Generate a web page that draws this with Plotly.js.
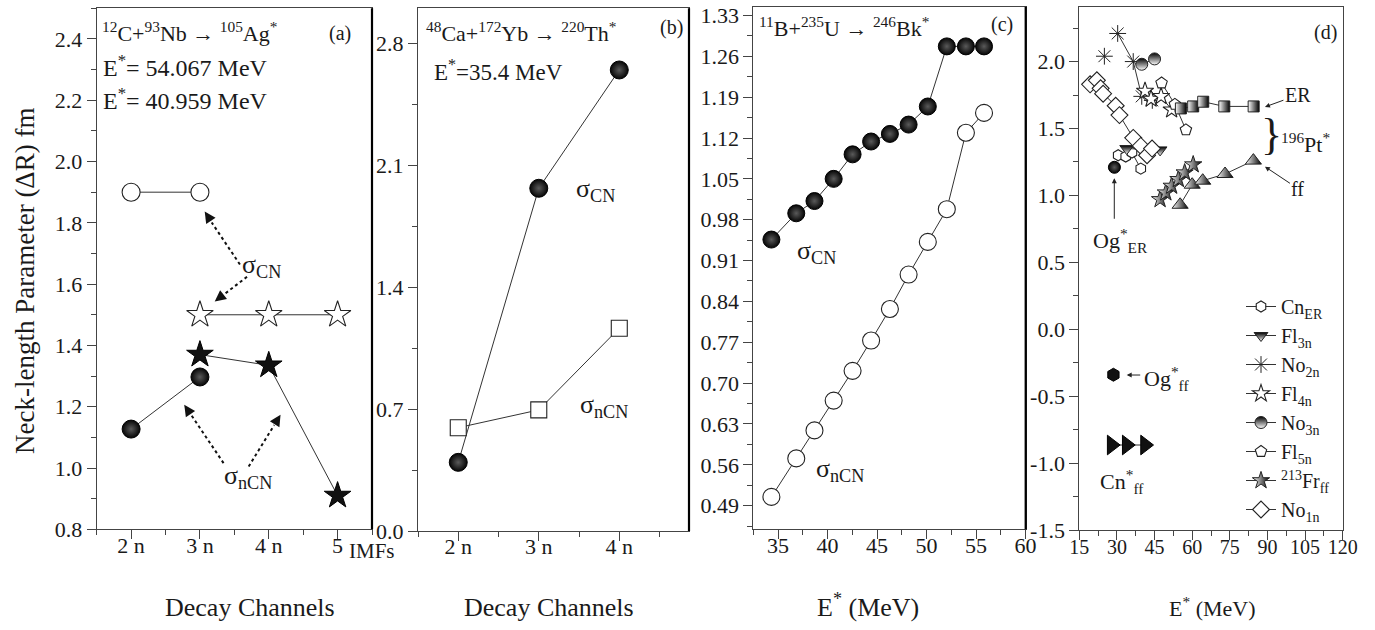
<!DOCTYPE html>
<html><head><meta charset="utf-8">
<script src="https://cdn.plot.ly/plotly-3.0.1.min.js"></script>
<style>html,body{margin:0;padding:0;background:#fff}#chart{width:1375px;height:630px}</style>
</head><body><div id="chart"></div>
<script>
// ---------- Panel (a): 12C+93Nb -> 105Ag* ----------
const aChannels = [2, 3, 4, 5];
const aTickText = ['2 n', '3 n', '4 n', '5'];
const aCircleX = [2, 3];       const aCircleY = [1.90, 1.90];
const aOpenStarX = [3, 4, 5];  const aOpenStarY = [1.50, 1.50, 1.50];
const aStarX = [3, 4, 5];      const aStarY = [1.37, 1.335, 0.91];
const aBallX = [2, 3];         const aBallY = [1.127, 1.297];
// ---------- Panel (b): 48Ca+172Yb -> 220Th* ----------
const bChannels = [2, 3, 4];
const bTickText = ['2 n', '3 n', '4 n'];
const bBallY = [0.394, 1.967, 2.646];
const bSquareY = [0.593, 0.695, 1.164];
// ---------- Panel (c): 11B+235U -> 246Bk* ----------
const cE   = [34.33, 36.84, 38.68, 40.62, 42.53, 44.40, 46.30, 48.19, 50.13, 52.05, 53.98, 55.81];
const cCN  = [0.946, 0.991, 1.012, 1.050, 1.092, 1.114, 1.127, 1.143, 1.174, 1.277, 1.277, 1.277];
const cNCN = [0.505, 0.571, 0.619, 0.670, 0.721, 0.773, 0.827, 0.886, 0.942, 0.998, 1.129, 1.163];
// ---------- Panel (d) ----------
const cnErE = [30.5, 33.5, 36.0, 39.5];        const cnErV = [1.30, 1.29, 1.32, 1.20];
const fl3nE = [33.9, 47.2];                    const fl3nV = [1.35, 1.34];
const no2nE = [25.0, null, 30.3, 36.5, 39.9, 44.1]; const no2nV = [2.04, null, 2.21, 2.00, 1.74, 1.71];
const fl4nE = [41.2, 43.6, 47.6, 51.8];        const fl4nV = [1.78, 1.72, 1.74, 1.64];
const no3nE = [39.9, 45.0];                    const no3nV = [1.98, 2.02];
const fl5nE = [47.8, 53.1, 57.5];              const fl5nV = [1.84, 1.68, 1.49];
const frE   = [47.2, 49.5, 51.8, 54.5, 57.0, 60.4]; const frV = [0.97, 1.02, 1.07, 1.12, 1.17, 1.23];
const no1nE = [19.3, 22.0, 23.5, 24.5, 29.5, 31.0, 36.5, 39.5, 42.0, 44.0];
const no1nV = [1.83, 1.86, 1.80, 1.76, 1.67, 1.60, 1.43, 1.37, 1.30, 1.35];
const ptErE = [55.5, 60.4, 64.4, 72.8, 84.5];  const ptErV = [1.65, 1.665, 1.70, 1.665, 1.665];
const ptFfE = [55.2, 60.0, 64.2, 73.1, 84.4];  const ptFfV = [0.93, 1.08, 1.11, 1.16, 1.26];
const ogErE = [29.0];  const ogErV = [1.21];
const ogFfE = [28.6];  const ogFfV = [-0.34];
const cnFfE = [27.9, 33.9, 41.2];  const cnFfV = [-0.865, -0.865, -0.865];
const dYTicks = [-1.5, -1.0, -0.5, 0.0, 0.5, 1.0, 1.5, 2.0];
const dYText = ['-1.5', '-1.0', '-0.5', '0.0', '0.5', '1.0', '1.5', '2.0'];

const FONT = '"Liberation Serif", "Times New Roman", Times, serif';
const INK = '#1a1a1a';
const LINE = {color: '#333', width: 1};
const ball = s => ({symbol: 'circle', size: s, color: '#050505', gradient: {type: 'radial', color: '#5a5a5a'}, line: {color: '#000', width: 1}});
const openM = (sym, s) => ({symbol: sym, size: s, color: '#fff', line: {color: '#222', width: 1.1}});

const traces = [
  // panel d legend traces first (legend order)
  {x: cnErE, y: cnErV, xaxis: 'x4', yaxis: 'y4', mode: 'lines+markers', name: 'Cn<sub>ER</sub>', line: LINE, marker: openM('hexagon', 11)},
  {x: fl3nE, y: fl3nV, xaxis: 'x4', yaxis: 'y4', mode: 'lines+markers', name: 'Fl<sub>3n</sub>', line: LINE,
   marker: {symbol: 'triangle-down', size: 12, color: '#000', gradient: {type: 'vertical', color: '#fff'}, line: {color: '#222', width: 1}}},
  {x: no2nE, y: no2nV, xaxis: 'x4', yaxis: 'y4', mode: 'lines+markers', name: 'No<sub>2n</sub>', line: LINE, connectgaps: false,
   marker: {symbol: 'asterisk-open', size: 14, color: '#222', line: {color: '#222', width: 1}}},
  {x: fl4nE, y: fl4nV, xaxis: 'x4', yaxis: 'y4', mode: 'lines+markers', name: 'Fl<sub>4n</sub>', line: LINE, marker: openM('star', 13)},
  {x: no3nE, y: no3nV, xaxis: 'x4', yaxis: 'y4', mode: 'lines+markers', name: 'No<sub>3n</sub>', line: LINE,
   marker: {symbol: 'circle', size: 12, color: '#000', gradient: {type: 'vertical', color: '#fff'}, line: {color: '#222', width: 1}}},
  {x: fl5nE, y: fl5nV, xaxis: 'x4', yaxis: 'y4', mode: 'lines+markers', name: 'Fl<sub>5n</sub>', line: LINE, marker: openM('pentagon', 12)},
  {x: frE, y: frV, xaxis: 'x4', yaxis: 'y4', mode: 'lines+markers', name: '<sup>213</sup>Fr<sub>ff</sub>', line: LINE,
   marker: {symbol: 'star', size: 13, color: '#fff', gradient: {type: 'horizontal', color: '#000'}, line: {color: '#222', width: 1}}},
  {x: no1nE, y: no1nV, xaxis: 'x4', yaxis: 'y4', mode: 'lines+markers', name: 'No<sub>1n</sub>', line: LINE, marker: openM('diamond', 13)},
  // panel d other traces
  {x: ptErE, y: ptErV, xaxis: 'x4', yaxis: 'y4', mode: 'lines+markers', showlegend: false, line: LINE,
   marker: {symbol: 'square', size: 11, color: '#fff', gradient: {type: 'horizontal', color: '#000'}, line: {color: '#222', width: 1}}},
  {x: ptFfE, y: ptFfV, xaxis: 'x4', yaxis: 'y4', mode: 'lines+markers', showlegend: false, line: LINE,
   marker: {symbol: 'triangle-up', size: 14, color: '#fff', gradient: {type: 'horizontal', color: '#000'}, line: {color: '#222', width: 1}}},
  {x: ogErE, y: ogErV, xaxis: 'x4', yaxis: 'y4', mode: 'markers', showlegend: false, marker: ball(12)},
  {x: ogFfE, y: ogFfV, xaxis: 'x4', yaxis: 'y4', mode: 'markers', showlegend: false, marker: {symbol: 'hexagon', size: 13, color: '#111', line: {color: '#000', width: 1}}},
  {x: cnFfE, y: cnFfV, xaxis: 'x4', yaxis: 'y4', mode: 'lines+markers', showlegend: false, line: LINE, marker: {symbol: 'triangle-right', size: 17, color: '#111', line: {color: '#000', width: 1}}},
  // panel a
  {x: aCircleX, y: aCircleY, mode: 'lines+markers', showlegend: false, line: LINE, marker: openM('circle', 18)},
  {x: aOpenStarX, y: aOpenStarY, mode: 'lines+markers', showlegend: false, line: LINE, marker: openM('star', 20)},
  {x: aStarX, y: aStarY, mode: 'lines+markers', showlegend: false, line: LINE, marker: {symbol: 'star', size: 20, color: '#111', line: {color: '#000', width: 1}}},
  {x: aBallX, y: aBallY, mode: 'lines+markers', showlegend: false, line: LINE, marker: ball(18)},
  // panel b
  {x: bChannels, y: bBallY, xaxis: 'x2', yaxis: 'y2', mode: 'lines+markers', showlegend: false, line: LINE, marker: ball(18)},
  {x: bChannels, y: bSquareY, xaxis: 'x2', yaxis: 'y2', mode: 'lines+markers', showlegend: false, line: LINE, marker: openM('square', 16)},
  // panel c
  {x: cE, y: cCN, xaxis: 'x3', yaxis: 'y3', mode: 'lines+markers', showlegend: false, line: LINE, marker: ball(17)},
  {x: cE, y: cNCN, xaxis: 'x3', yaxis: 'y3', mode: 'lines+markers', showlegend: false, line: LINE, marker: openM('circle', 17)}
];

const W = 1375, H = 630;
const px = v => v / W, py = v => 1 - v / H;
function axis(extra) {
  return Object.assign({
    showline: true, linecolor: '#444', linewidth: 1, mirror: true,
    ticks: 'outside', ticklen: 9, tickwidth: 1, tickcolor: '#444',
    showgrid: false, zeroline: false, fixedrange: true,
    tickfont: {family: FONT, size: 22, color: INK}
  }, extra);
}
const minor = (dt, t0) => ({ticks: 'outside', ticklen: 5, tickwidth: 1, tickcolor: '#444', dtick: dt, tick0: t0, showgrid: false});

const layout = {
  width: W, height: H, margin: {l: 0, r: 0, t: 0, b: 0},
  paper_bgcolor: '#fff', plot_bgcolor: '#fff',
  font: {family: FONT, color: INK},
  showlegend: true,
  legend: {x: px(1241), y: py(287), xanchor: 'left', yanchor: 'top', bgcolor: 'rgba(0,0,0,0)',
           font: {family: FONT, size: 20, color: INK}, tracegroupgap: 0, itemwidth: 30},
  xaxis: axis({domain: [px(96.7), px(372)], range: [1.5, 5.5], anchor: 'y', ticklabelstandoff: -13,
               tickmode: 'array', tickvals: aChannels, ticktext: aTickText, minor: minor(0.5, 1.5)}),
  yaxis: axis({domain: [py(529.3), py(8.3)], range: [0.8, 2.5], anchor: 'x',
               tick0: 0.8, dtick: 0.2, tickformat: '.1f', minor: minor(0.1, 0.8)}),
  xaxis2: axis({domain: [px(418), px(689)], range: [1.5, 4.866], anchor: 'y2', ticklabelstandoff: -13,
               tickmode: 'array', tickvals: bChannels, ticktext: bTickText, minor: minor(0.5, 1.5)}),
  yaxis2: axis({domain: [py(531), py(8.3)], range: [0, 3.0], anchor: 'x2',
               tick0: 0, dtick: 0.7, tickformat: '.1f', minor: minor(0.35, 0)}),
  xaxis3: axis({domain: [px(753.3), px(1025.7)], range: [32.5, 60.02], anchor: 'y3', ticklabelstandoff: -13,
               tick0: 35, dtick: 5, minor: minor(2.5, 32.5)}),
  yaxis3: axis({domain: [py(529.3), py(6.7)], range: [0.4495, 1.345], anchor: 'x3',
               tick0: 0.49, dtick: 0.07, tickformat: '.2f', minor: minor(0.035, 0.455)}),
  xaxis4: axis({domain: [px(1079.3), px(1342.7)], range: [15, 120], anchor: 'y4', ticklabelstandoff: -10,
               tick0: 15, dtick: 15, minor: minor(7.5, 15), tickfont: {family: FONT, size: 20, color: INK}}),
  yaxis4: axis({domain: [py(530), py(6.7)], range: [-1.5, 2.41], anchor: 'x4',
               tickmode: 'array', tickvals: dYTicks, ticktext: dYText, minor: minor(0.25, -1.5),
               tickfont: {family: FONT, size: 22, color: INK}}),
  shapes: [
    // heavy right frame lines of panels a, b, c
    {type: 'line', xref: 'paper', yref: 'paper', x0: px(372), x1: px(372), y0: py(529.3), y1: py(8.3), line: {color: '#000', width: 2.2}},
    {type: 'line', xref: 'paper', yref: 'paper', x0: px(689), x1: px(689), y0: py(531), y1: py(8.3), line: {color: '#000', width: 2.2}},
    {type: 'line', xref: 'paper', yref: 'paper', x0: px(1025.7), x1: px(1025.7), y0: py(529.3), y1: py(6.7), line: {color: '#000', width: 2.2}},
    // dotted arrow shafts in panel a
    {type: 'line', xref: 'x', yref: 'y', x0: 3.581, y0: 1.664, x1: 3.171, y1: 1.801, line: {color: '#111', width: 2, dash: 'dot'}},
    {type: 'line', xref: 'x', yref: 'y', x0: 3.684, y0: 1.624, x1: 3.354, y1: 1.567, line: {color: '#111', width: 2, dash: 'dot'}},
    {type: 'line', xref: 'x', yref: 'y', x0: 3.343, y0: 1.016, x1: 2.870, y1: 1.174, line: {color: '#111', width: 2, dash: 'dot'}},
    {type: 'line', xref: 'x', yref: 'y', x0: 3.708, y0: 1.005, x1: 4.079, y1: 1.140, line: {color: '#111', width: 2, dash: 'dot'}}
  ],
  annotations: []
};

const A = layout.annotations;
const txt = (o) => A.push(Object.assign({showarrow: false, xanchor: 'center', yanchor: 'middle', font: {family: FONT, size: 22, color: INK}}, o));
const head = (o) => A.push(Object.assign({text: '', showarrow: true, arrowhead: 2, arrowsize: 1.4, arrowwidth: 1.6, arrowcolor: '#111'}, o));

// axis titles
txt({xref: 'paper', yref: 'paper', x: px(25), y: py(281), text: 'Neck-length Parameter (ΔR) fm', textangle: -90, font: {family: FONT, size: 27, color: INK}});
txt({xref: 'paper', yref: 'paper', x: px(250), y: py(607), text: 'Decay Channels', font: {family: FONT, size: 26, color: INK}});
txt({xref: 'paper', yref: 'paper', x: px(549), y: py(607), text: 'Decay Channels', font: {family: FONT, size: 26, color: INK}});
txt({xref: 'paper', yref: 'paper', x: px(868), y: py(605), text: 'E<sup>*</sup> (MeV)', font: {family: FONT, size: 26, color: INK}});
txt({xref: 'paper', yref: 'paper', x: px(1212), y: py(607), text: 'E<sup>*</sup> (MeV)', font: {family: FONT, size: 22, color: INK}});
txt({xref: 'paper', yref: 'paper', x: px(347), y: py(551), xanchor: 'left', text: 'IMFs', font: {family: FONT, size: 21, color: INK}});

// panel a labels
txt({xref: 'paper', yref: 'paper', x: px(100), y: py(32), xanchor: 'left', text: '<sup>12</sup>C+<sup>93</sup>Nb → <sup>105</sup>Ag<sup>*</sup>'});
txt({xref: 'paper', yref: 'paper', x: px(340), y: py(33), text: '(a)', font: {family: FONT, size: 20, color: INK}});
txt({xref: 'paper', yref: 'paper', x: px(101), y: py(66), xanchor: 'left', text: 'E<sup>*</sup>= 54.067 MeV', font: {family: FONT, size: 24, color: INK}});
txt({xref: 'paper', yref: 'paper', x: px(101), y: py(99), xanchor: 'left', text: 'E<sup>*</sup>= 40.959 MeV', font: {family: FONT, size: 24, color: INK}});
txt({xref: 'x', yref: 'y', x: 3.9, y: 1.66, text: 'σ<sub>CN</sub>', font: {family: FONT, size: 26, color: INK}});
txt({xref: 'x', yref: 'y', x: 3.7, y: 0.97, text: 'σ<sub>nCN</sub>', font: {family: FONT, size: 26, color: INK}});
head({xref: 'x', yref: 'y', x: 3.069, y: 1.837, ax: 7, ay: 10.6});
head({xref: 'x', yref: 'y', x: 3.215, y: 1.543, ax: 9.5, ay: -7.4});
head({xref: 'x', yref: 'y', x: 2.772, y: 1.206, ax: 6.7, ay: 10});
head({xref: 'x', yref: 'y', x: 4.171, y: 1.174, ax: -6.3, ay: 10.2});

// panel b labels
txt({xref: 'paper', yref: 'paper', x: px(424), y: py(32), xanchor: 'left', text: '<sup>48</sup>Ca+<sup>172</sup>Yb → <sup>220</sup>Th<sup>*</sup>'});
txt({xref: 'paper', yref: 'paper', x: px(432), y: py(70), xanchor: 'left', text: 'E<sup>*</sup>=35.4 MeV', font: {family: FONT, size: 23, color: INK}});
txt({xref: 'paper', yref: 'paper', x: px(671), y: py(28), text: '(b)', font: {family: FONT, size: 20, color: INK}});
txt({xref: 'paper', yref: 'paper', x: px(595), y: py(190), text: 'σ<sub>CN</sub>', font: {family: FONT, size: 26, color: INK}});
txt({xref: 'paper', yref: 'paper', x: px(604), y: py(406), text: 'σ<sub>nCN</sub>', font: {family: FONT, size: 26, color: INK}});

// panel c labels
txt({xref: 'paper', yref: 'paper', x: px(757), y: py(27), xanchor: 'left', text: '<sup>11</sup>B+<sup>235</sup>U → <sup>246</sup>Bk<sup>*</sup>'});
txt({xref: 'paper', yref: 'paper', x: px(1002), y: py(25), text: '(c)', font: {family: FONT, size: 20, color: INK}});
txt({xref: 'paper', yref: 'paper', x: px(816), y: py(252), text: 'σ<sub>CN</sub>', font: {family: FONT, size: 26, color: INK}});
txt({xref: 'paper', yref: 'paper', x: px(840), y: py(470), text: 'σ<sub>nCN</sub>', font: {family: FONT, size: 26, color: INK}});

// panel d labels
txt({xref: 'paper', yref: 'paper', x: px(1325), y: py(32), text: '(d)', font: {family: FONT, size: 20, color: INK}});
A.push({xref: 'x4', yref: 'y4', x: 89.0, y: 1.661, ax: 33, ay: -12, text: 'ER', showarrow: true, arrowhead: 2, arrowsize: 1, arrowwidth: 1, arrowcolor: '#222', font: {family: FONT, size: 20, color: INK}});
A.push({xref: 'x4', yref: 'y4', x: 89.0, y: 1.215, ax: 33, ay: 22, text: 'ff', showarrow: true, arrowhead: 2, arrowsize: 1, arrowwidth: 1, arrowcolor: '#222', font: {family: FONT, size: 20, color: INK}});
txt({xref: 'paper', yref: 'paper', x: px(1271), y: py(134), text: '}', font: {family: FONT, size: 44, color: INK}});
txt({xref: 'paper', yref: 'paper', x: px(1279), y: py(143), xanchor: 'left', text: '<sup>196</sup>Pt<sup>*</sup>', font: {family: FONT, size: 22, color: INK}});
A.push({xref: 'x4', yref: 'y4', x: 28.95, y: 1.128, ax: 0, ay: 42, text: '', showarrow: true, arrowhead: 2, arrowsize: 1, arrowwidth: 1, arrowcolor: '#222'});
txt({xref: 'paper', yref: 'paper', x: px(1120), y: py(240), text: 'Og<sup>*</sup><sub>ER</sub>', font: {family: FONT, size: 22, color: INK}});
A.push({xref: 'x4', yref: 'y4', x: 33.9, y: -0.342, ax: 15, ay: 0, text: '', showarrow: true, arrowhead: 2, arrowsize: 1, arrowwidth: 1, arrowcolor: '#222'});
txt({xref: 'paper', yref: 'paper', x: px(1142), y: py(378), xanchor: 'left', text: 'Og<sup>*</sup><sub>ff</sub>', font: {family: FONT, size: 22, color: INK}});
txt({xref: 'paper', yref: 'paper', x: px(1122), y: py(482), text: 'Cn<sup>*</sup><sub>ff</sub>', font: {family: FONT, size: 22, color: INK}});

Plotly.newPlot('chart', traces, layout, {displayModeBar: false, staticPlot: true});
</script>
</body></html>
